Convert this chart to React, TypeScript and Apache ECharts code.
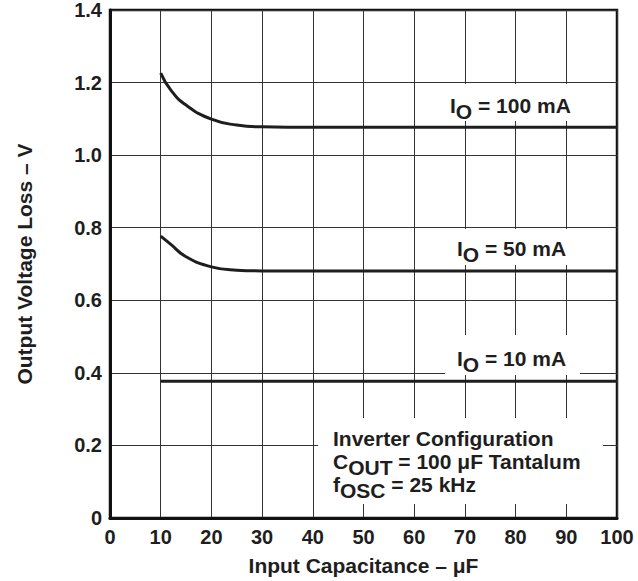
import React, { useEffect, useRef } from "react";
import * as echarts from "echarts";

const xTicks = [0, 10, 20, 30, 40, 50, 60, 70, 80, 90, 100];
const yTicks = ["0", "0.2", "0.4", "0.6", "0.8", "1.0", "1.2", "1.4"];

const cap100 = [10, 12, 15, 20, 25, 30, 35, 100];
const loss100 = [1.226, 1.179, 1.138, 1.099, 1.083, 1.078, 1.077, 1.077];
const cap50 = [10, 12, 15, 20, 25, 30, 100];
const loss50 = [0.777, 0.754, 0.72, 0.692, 0.683, 0.681, 0.681];
const cap10 = [10, 100];
const loss10 = [0.377, 0.377];

const seriesNames = ["IO = 100 mA", "IO = 50 mA", "IO = 10 mA"];

const FONT = "'Liberation Sans', Arial, Helvetica, sans-serif";
const INK = "#1e1e1e";

export default function App() {
  const ref = useRef<HTMLDivElement>(null);
  useEffect(() => {
    document.body.style.margin = "0";
    const chart = echarts.init(ref.current!, null, { renderer: "svg" });
    const pair = (xs: number[], ys: number[]) => xs.map((x, i) => [x, ys[i]]);
    const rich = {
      m: { fontFamily: FONT, fontWeight: "bold", fontSize: 21, fill: INK, lineHeight: 23, verticalAlign: "bottom" },
      s: { fontFamily: FONT, fontWeight: "bold", fontSize: 21, fill: INK, lineHeight: 23, verticalAlign: "bottom", padding: [0, 0, -6, 0] },
    };
    const label = (rest: string, x: number, y: number) => ({
      type: "text",
      z: 3,
      x,
      y,
      style: { text: `{m|I}{s|O}{m|${rest}}`, rich, verticalAlign: "top" },
    });
    chart.setOption({
      animation: false,
      backgroundColor: "#fff",
      grid: {
        left: 110,
        top: 10,
        right: 21,
        bottom: 63,
        show: true,
        borderColor: "#111",
        borderWidth: 2.5,
      },
      xAxis: {
        type: "value",
        min: 0,
        max: 100,
        interval: 10,
        name: "Input Capacitance – μF",
        nameLocation: "middle",
        nameGap: 37,
        nameTextStyle: { fontFamily: FONT, fontWeight: "bold", fontSize: 21, color: INK },
        axisLine: { show: true, lineStyle: { color: "#111", width: 3 } },
        axisTick: { show: false },
        axisLabel: {
          fontFamily: FONT,
          fontWeight: "bold",
          fontSize: 20,
          color: INK,
          margin: 9,
          formatter: (v: number) => (xTicks.includes(v) ? String(v) : ""),
        },
        splitLine: { show: true, lineStyle: { color: "#333", width: 1 } },
      },
      yAxis: {
        type: "value",
        min: 0,
        max: 1.4,
        interval: 0.2,
        name: "Output Voltage Loss – V",
        nameLocation: "middle",
        nameGap: 75,
        nameTextStyle: { fontFamily: FONT, fontWeight: "bold", fontSize: 21, color: INK },
        axisLine: { show: true, lineStyle: { color: "#111", width: 3 } },
        axisTick: { show: false },
        axisLabel: {
          fontFamily: FONT,
          fontWeight: "bold",
          fontSize: 20,
          color: INK,
          margin: 8,
          formatter: (v: number) => yTicks[Math.round(v / 0.2)] ?? "",
        },
        splitLine: { show: true, lineStyle: { color: "#333", width: 1 } },
      },
      series: [
        { name: seriesNames[0], type: "line", smooth: 0.5, data: pair(cap100, loss100) },
        { name: seriesNames[1], type: "line", smooth: 0.5, data: pair(cap50, loss50) },
        { name: seriesNames[2], type: "line", data: pair(cap10, loss10) },
      ].map((s) => ({
        ...s,
        showSymbol: false,
        z: 4,
        lineStyle: { color: INK, width: 3 },
      })),
      graphic: [
        { type: "rect", z: 2, shape: { x: 440, y: 84, width: 148, height: 37 }, style: { fill: "#fff" } },
        { type: "rect", z: 2, shape: { x: 442, y: 229, width: 146, height: 36 }, style: { fill: "#fff" } },
        { type: "rect", z: 2, shape: { x: 445, y: 335, width: 135, height: 40 }, style: { fill: "#fff" } },
        { type: "rect", z: 2, shape: { x: 318, y: 418, width: 285, height: 86 }, style: { fill: "#fff" } },
        label(" = 100 mA", 450, 93),
        label(" = 50 mA", 457, 236),
        label(" = 10 mA", 457, 346),
        {
          type: "text",
          z: 3,
          x: 333,
          y: 426,
          style: {
            text: "{m|Inverter Configuration}\n{m|C}{s|OUT}{m| = 100 μF Tantalum}\n{m|f}{s|OSC}{m| = 25 kHz}",
            rich,
            verticalAlign: "top",
          },
        },
      ],
    });
    return () => chart.dispose();
  }, []);
  return <div ref={ref} style={{ width: 638, height: 581 }} />;
}
